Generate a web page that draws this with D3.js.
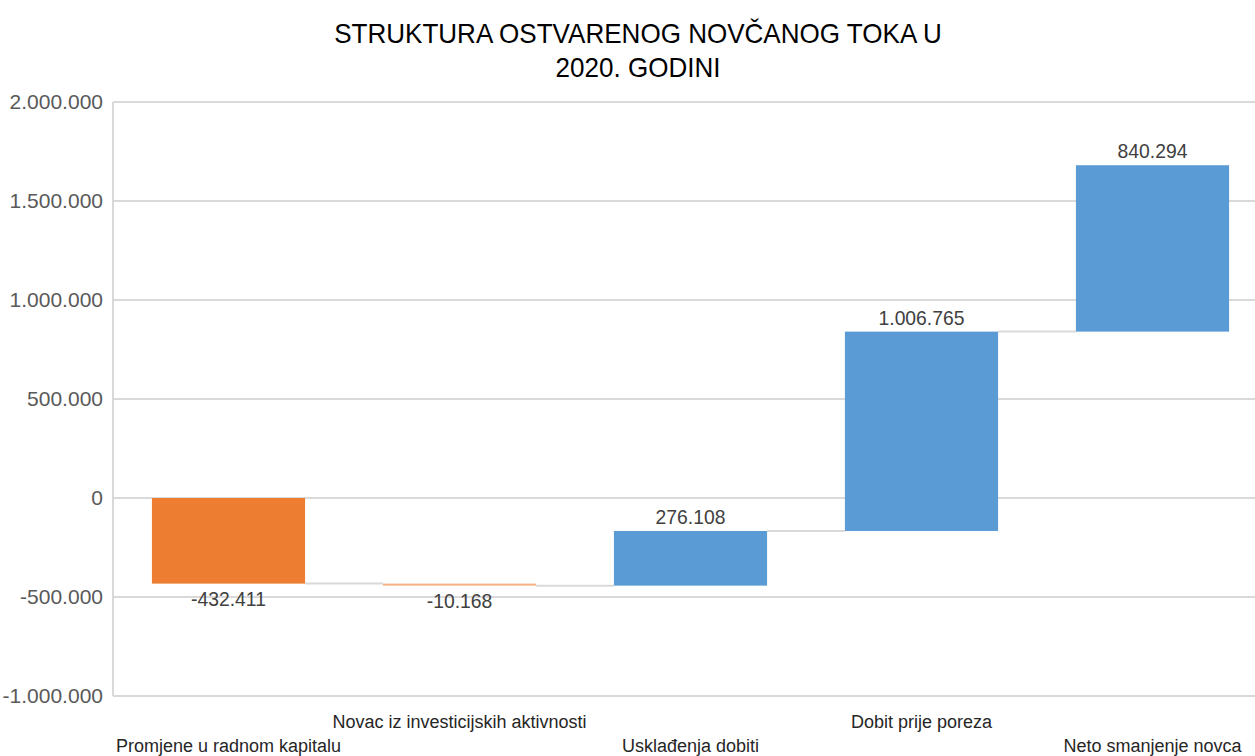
<!DOCTYPE html>
<html><head><meta charset="utf-8">
<script src="https://cdn.jsdelivr.net/npm/d3@7"></script>
<style>body{margin:0;background:#fff;} svg{display:block;} text{font-family:"Liberation Sans",Arial,sans-serif;}</style>
</head><body>
<svg id="c" width="1255" height="756"></svg>
<script>
const titleLines = ["STRUKTURA OSTVARENOG NOVČANOG TOKA U", "2020. GODINI"];
const categories = ["Promjene u radnom kapitalu", "Novac iz investicijskih aktivnosti", "Usklađenja dobiti", "Dobit prije poreza", "Neto smanjenje novca"];
const values = [-432411, -10168, 276108, 1006765, 840294];
const yTicks = [-1000000, -500000, 0, 500000, 1000000, 1500000, 2000000];

(function () {
const svg = d3.select("#c");
const W = 1255, H = 756;
const mLeft = 113, mRight = 1268, mTop = 102, mBottom = 696;

const loc = d3.formatLocale({decimal: ",", thousands: ".", grouping: [3], currency: ["", ""], minus: "-"});
const fmt = loc.format(",d");

const y = d3.scaleLinear().domain([-1000000, 2000000]).range([mBottom, mTop]);
const x = d3.scaleBand().domain(categories).range([mLeft, mRight]).paddingInner(0.337).paddingOuter(0.1685);

let run = 0;
const bars = values.map((v, i) => { const s = run; run += v; return {cat: categories[i], v, start: s, end: run}; });

function condense(sel, f) {
  sel.each(function () {
    const len = this.getComputedTextLength();
    d3.select(this).attr("textLength", len * f).attr("lengthAdjust", "spacingAndGlyphs");
  });
}

svg.append("g").selectAll("line").data(yTicks).join("line")
  .attr("x1", mLeft).attr("x2", W).attr("y1", d => y(d)).attr("y2", d => y(d))
  .attr("stroke", "#d9d9d9").attr("stroke-width", 2);
svg.append("line").attr("x1", mLeft).attr("x2", mLeft).attr("y1", mTop).attr("y2", mBottom)
  .attr("stroke", "#d9d9d9").attr("stroke-width", 2);

const yAxis = d3.axisLeft(y).tickValues(yTicks).tickFormat(fmt).tickSize(0).tickPadding(10);
const ga = svg.append("g").attr("transform", `translate(${mLeft},0)`).call(yAxis);
ga.select(".domain").remove();
ga.selectAll("text").attr("font-size", 21).attr("fill", "#595959").attr("font-family", '"Liberation Sans",Arial,sans-serif');

svg.append("g").selectAll("line").data(bars.slice(0, -1)).join("line")
  .attr("x1", d => x(d.cat) + x.bandwidth())
  .attr("x2", (d, i) => x(categories[i + 1]))
  .attr("y1", d => y(d.end)).attr("y2", d => y(d.end))
  .attr("stroke", "#d9d9d9").attr("stroke-width", 2);

svg.append("g").selectAll("rect").data(bars).join("rect")
  .attr("x", d => x(d.cat)).attr("width", x.bandwidth())
  .attr("y", d => y(Math.max(d.start, d.end)))
  .attr("height", d => Math.max(1.5, Math.abs(y(d.start) - y(d.end))))
  .attr("fill", d => d.v < 0 ? (Math.abs(d.v) < 50000 ? "#f4b183" : "#ed7d31") : "#5b9bd5");

const dl = svg.append("g").selectAll("text").data(bars).join("text")
  .attr("x", d => x(d.cat) + x.bandwidth() / 2)
  .attr("y", d => d.v < 0 ? y(d.end) + 22 : y(d.end) - 7)
  .attr("text-anchor", "middle").attr("font-size", 21).attr("fill", "#404040")
  .text(d => fmt(d.v));
condense(dl, 0.92);

svg.append("g").selectAll("text").data(categories).join("text")
  .attr("x", d => x(d) + x.bandwidth() / 2)
  .attr("y", (d, i) => i % 2 === 1 ? 728 : 752)
  .attr("text-anchor", "middle").attr("font-size", 18).attr("fill", "#262626")
  .text(d => d);

const tt = svg.append("g").selectAll("text").data(titleLines).join("text")
  .attr("x", 638).attr("y", (d, i) => 43 + i * 34)
  .attr("text-anchor", "middle").attr("font-size", 28).attr("fill", "#000")
  .text(d => d);
condense(tt, 0.93);
})();
</script>
</body></html>
